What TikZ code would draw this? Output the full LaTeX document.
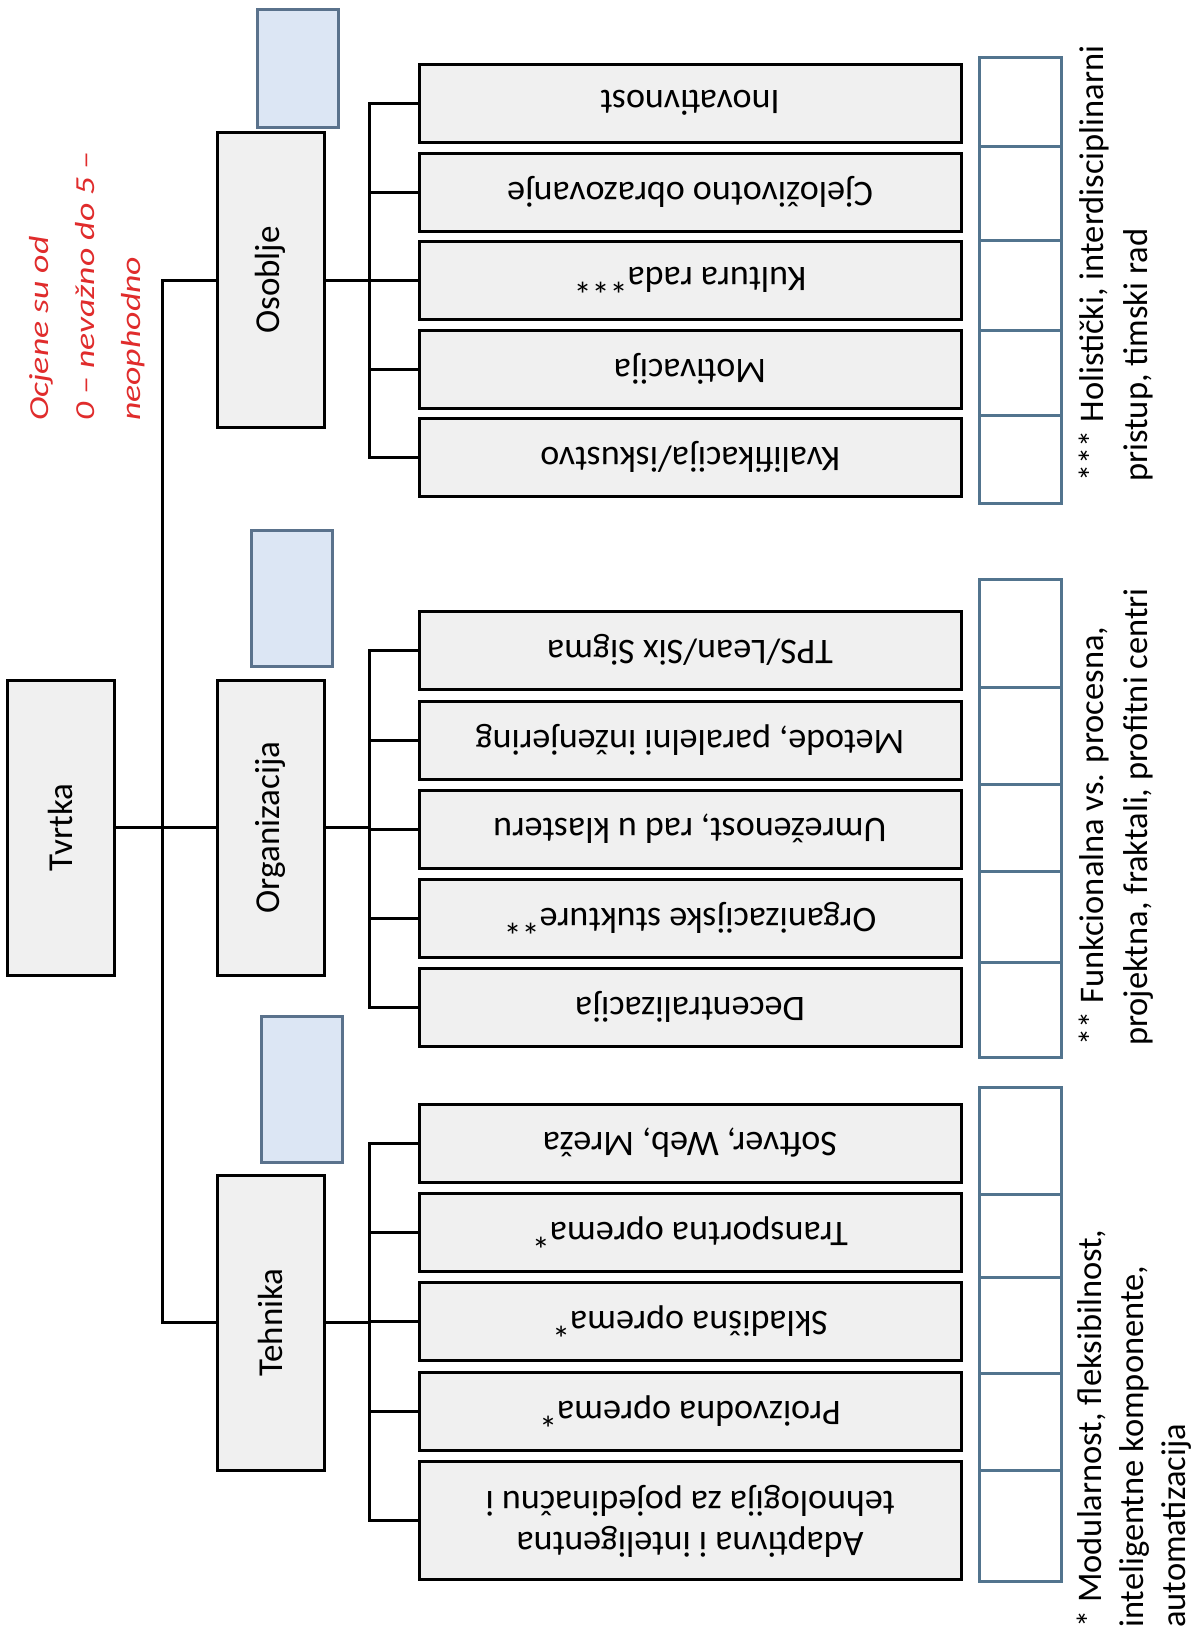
\documentclass[tikz,border=0pt]{standalone}
\usepackage{fontspec}
\setmainfont{Carlito}
\usepackage{graphicx}
\definecolor{boxfill}{RGB}{240,240,240}
\definecolor{bluefill}{RGB}{220,230,244}
\definecolor{bluedraw}{RGB}{90,114,140}
\definecolor{ratedraw}{RGB}{82,116,142}
\definecolor{redtxt}{RGB}{224,44,44}
\tikzset{
  mainbox/.style={draw=black, line width=3pt, fill=boxfill, minimum width=107pt,
    minimum height=295pt, inner sep=0pt, font=\fontsize{35}{41}\selectfont},
  subbox/.style={draw=black, line width=3pt, fill=boxfill, minimum width=542pt,
    minimum height=78pt, inner sep=0pt, font=\fontsize{36}{41}\selectfont},
  bluebox/.style={draw=bluedraw, fill=bluefill, line width=3pt, inner sep=0pt,
    minimum width=81pt, minimum height=118pt},
  ratebox/.style={draw=ratedraw, line width=3pt},
  conn/.style={line width=3pt, line cap=rect},
  note/.style={rotate=90, anchor=base west, inner sep=0pt, font=\fontsize{34.5}{40}\selectfont},
  redtext/.style={rotate=90, anchor=base west, inner sep=0pt, text=redtxt,
    font=\fontsize{27.5}{32}\itshape\selectfont}
}
\begin{document}
\begin{tikzpicture}[x=1pt,y=-1pt]
\useasboundingbox (0,0) rectangle (1197,1639);
\fill[white] (0,0) rectangle (1197,1639);

% main boxes
\node[mainbox] (tvrtka) at (60.5,827.5) {\rotatebox{90}{Tvrtka}};
\node[mainbox] (osoblje) at (270.5,280) {\rotatebox{90}{Osoblje}};
\node[mainbox] (org) at (270.5,827.5) {\rotatebox{90}{Organizacija}};
\node[mainbox] (teh) at (270.5,1322.5) {\rotatebox{90}{Tehnika}};

% blue boxes
\node[bluebox] (bo) at (297.5,68) {};
\node[bluebox, minimum height=136pt] (bg) at (292,598) {};
\node[bluebox, minimum height=146pt] (bt) at (302,1089) {};

% sub boxes Osoblje
\node[subbox] (o1) at (690,103) {\rotatebox{180}{Inovativnost}};
\node[subbox] (o2) at (690,192) {\rotatebox{180}{Cjeloživotno obrazovanje}};
\node[subbox] (o3) at (690,280) {\rotatebox{180}{Kultura rada***}};
\node[subbox] (o4) at (690,369) {\rotatebox{180}{Motivacija}};
\node[subbox] (o5) at (690,457) {\rotatebox{180}{Kvalifikacija/iskustvo}};

% sub boxes Organizacija
\node[subbox] (g1) at (690,650) {\rotatebox{180}{TPS/Lean/Six Sigma}};
\node[subbox] (g2) at (690,740) {\rotatebox{180}{Metode, paralelni inženjering}};
\node[subbox] (g3) at (690,829) {\rotatebox{180}{Umreženost, rad u klasteru}};
\node[subbox] (g4) at (690,918) {\rotatebox{180}{Organizacijske stukture**}};
\node[subbox] (g5) at (690,1007) {\rotatebox{180}{Decentralizacija}};

% sub boxes Tehnika
\node[subbox] (t1) at (690,1143) {\rotatebox{180}{Softver, Web, Mreža}};
\node[subbox] (t2) at (690,1232) {\rotatebox{180}{Transportna oprema*}};
\node[subbox] (t3) at (690,1321) {\rotatebox{180}{Skladišna oprema*}};
\node[subbox] (t4) at (690,1411) {\rotatebox{180}{Proizvodna oprema*}};
\node[subbox, minimum height=118pt] (t5) at (690,1520) {\rotatebox{180}{\begin{tabular}{@{}c@{}}Adaptivna i inteligentna\\ tehnologija za pojedinačnu i\end{tabular}}};

% connectors
\draw[conn] (tvrtka.east) -- (org.west);
\draw[conn] (osoblje.west) -- ++(-53,0) |- (teh.west);

\draw[conn] (osoblje.east) -- ++(44,0) coordinate (oj);
\draw[conn] (oj |- o1.west) -- (oj |- o5.west);
\foreach \n in {o1,o2,o3,o4,o5} \draw[conn] (oj |- \n.west) -- (\n.west);

\draw[conn] (org.east) -- ++(44,0) coordinate (gj);
\draw[conn] (gj |- g1.west) -- (gj |- g5.west);
\foreach \n in {g1,g2,g3,g4,g5} \draw[conn] (gj |- \n.west) -- (\n.west);

\draw[conn] (teh.east) -- ++(44,0) coordinate (tj);
\draw[conn] (tj |- t1.west) -- (tj |- t5.west);
\foreach \n in {t1,t2,t3,t4,t5} \draw[conn] (tj |- \n.west) -- (\n.west);

% rating boxes
\draw[ratebox] (979,57) rectangle (1061,503);
\foreach \yy in {146,240,330,415} \draw[ratebox] (979,\yy) -- (1061,\yy);
\draw[ratebox] (979,579) rectangle (1061,1057);
\foreach \yy in {687,784,871,962} \draw[ratebox] (979,\yy) -- (1061,\yy);
\draw[ratebox] (979,1087) rectangle (1061,1581);
\foreach \yy in {1194,1277,1373,1470} \draw[ratebox] (979,\yy) -- (1061,\yy);

% red text
\node[redtext] (r1) at (48,421) {\scalebox{1.3}[1]{Ocjene su od}};
\node[redtext] (r2) at (94,421) {\scalebox{1.3}[1]{0 – nevažno do 5 –}};
\node[redtext] (r3) at (140,421) {\scalebox{1.3}[1]{neophodno}};

% footnotes
\node[note] (n1) at (1103,482) {*** Holistički, interdisciplinarni};
\node[note] (n2) at (1147,482) {pristup, timski rad};
\node[note] (n3) at (1103,1046) {** Funkcionalna vs. procesna,};
\node[note] (n4) at (1147,1046) {projektna, fraktali, profitni centri};
\node[note] (n5) at (1101,1628) {* Modularnost, fleksibilnost,};
\node[note] (n6) at (1143,1628) {inteligentne komponente,};
\node[note] (n7) at (1185,1628) {automatizacija};
\end{tikzpicture}
\end{document}
